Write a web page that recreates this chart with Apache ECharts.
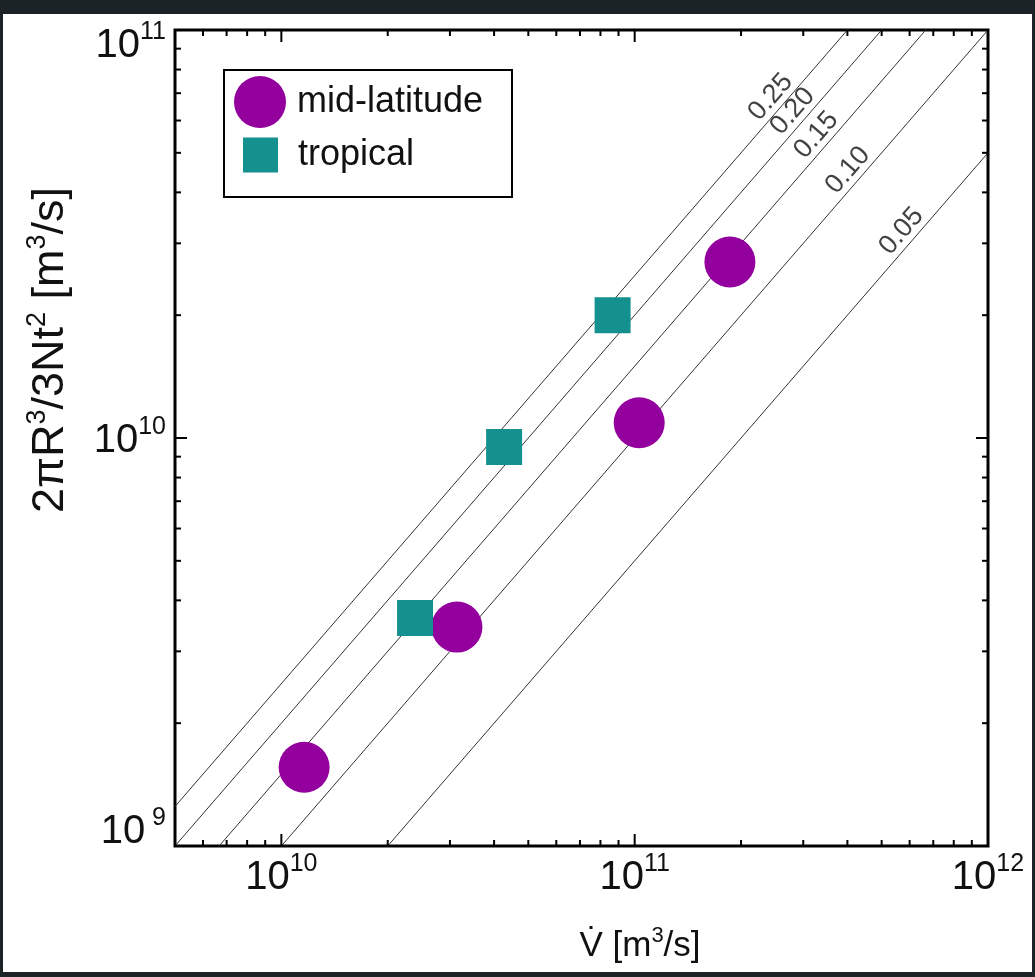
<!DOCTYPE html>
<html>
<head>
<meta charset="utf-8">
<script src="https://cdn.jsdelivr.net/npm/echarts@6/dist/echarts.min.js"></script>
<style>
  html, body { margin: 0; padding: 0; background: #fff; }
  #main { width: 1035px; height: 977px; }
</style>
</head>
<body>
<div id="main"></div>
<script>
// axis ranges
const xMin = 5e9, xMax = 1e12;
const yMin = 1e9, yMax = 1e11;

// data
const midLatV = [1.16e10, 3.14e10, 1.03e11, 1.86e11];
const midLatQ = [1.56e9, 3.44e9, 1.09e10, 2.70e10];
const tropV = [2.39e10, 4.27e10, 8.66e10];
const tropQ = [3.62e9, 9.5e9, 2.0e10];

// reference lines y = c * x and where their labels sit (x value)
const effCoef = [0.05, 0.10, 0.15, 0.20, 0.25];
const effLabels = ['0.05', '0.10', '0.15', '0.20', '0.25'];
const effLabelX = [6.1e11, 4.3e11, 3.5e11, 3.0e11, 2.6e11];

// tick marks
const xMajor = [1e10, 1e11, 1e12];
const xMinor = [5e9, 6e9, 7e9, 8e9, 9e9,
  2e10, 3e10, 4e10, 5e10, 6e10, 7e10, 8e10, 9e10,
  2e11, 3e11, 4e11, 5e11, 6e11, 7e11, 8e11, 9e11];
const yMajor = [1e9, 1e10, 1e11];
const yMinor = [2e9, 3e9, 4e9, 5e9, 6e9, 7e9, 8e9, 9e9,
  2e10, 3e10, 4e10, 5e10, 6e10, 7e10, 8e10, 9e10];

const font = 'Liberation Sans, Arial, sans-serif';
const purple = '#93009d';
const teal = '#14908f';
const labelAngle = 49;

// "10" + superscript; pt/pb shift the edge labels inwards like the original
function supStyles(pt, pb) {
  return {
    b: { fontSize: 40, fontFamily: font, color: '#111', padding: [pt + 6, 0, pb, 0] },
    s: { fontSize: 25, fontFamily: font, color: '#111', verticalAlign: 'top', padding: [pt, 0, 0, 0] }
  };
}
const midSup = supStyles(0, 0);
const topSup = supStyles(26, 0);
const botSup = supStyles(0, 34);
const labelRich = {
  b: midSup.b, s: midSup.s,
  bt: topSup.b, st: topSup.s,
  bb: botSup.b, sb: botSup.s
};

function powLabel(v, isY) {
  const lg = Math.log10(v);
  const e = Math.round(lg);
  if (Math.abs(lg - e) > 1e-6) return '';
  if (isY && e === 11) return '{bt|10}{st|11}';
  if (isY && e === 9) return '{bb|10}{sb| 9}';
  return '{b|10}{s|' + e + '}';
}

function tickLine(x1, y1, x2, y2) {
  return { type: 'line', shape: { x1: x1, y1: y1, x2: x2, y2: y2 }, style: { stroke: '#000', lineWidth: 2 } };
}

const xTickData = xMajor.map(v => [v, yMin, 1]).concat(xMinor.map(v => [v, yMin, 0]));
const yTickData = yMajor.map(v => [xMin, v, 1]).concat(yMinor.map(v => [xMin, v, 0]));

const lineSeries = effCoef.map(c => ({
  type: 'line',
  data: [[xMin, c * xMin], [xMax, c * xMax]],
  symbol: 'none',
  clip: true,
  silent: true,
  lineStyle: { color: '#333', width: 1 },
  z: 1
}));

const titleSup = { fontSize: 27, fontFamily: font, fill: '#111', verticalAlign: 'bottom', padding: [0, 0, 26, 0] };

const option = {
  backgroundColor: '#fff',
  animation: false,
  grid: {
    left: 175, top: 30, width: 813, height: 816,
    show: true, borderColor: '#000', borderWidth: 3, backgroundColor: '#fff'
  },
  xAxis: {
    type: 'log', logBase: 10, min: xMin, max: xMax,
    axisLine: { show: false },
    axisTick: { show: false },
    splitLine: { show: false },
    axisLabel: { formatter: v => powLabel(v, false), rich: labelRich, margin: 6 }
  },
  yAxis: {
    type: 'log', logBase: 10, min: yMin, max: yMax,
    axisLine: { show: false },
    axisTick: { show: false },
    splitLine: { show: false },
    axisLabel: { formatter: v => powLabel(v, true), rich: labelRich, margin: 9 }
  },
  legend: [
    {
      data: ['mid-latitude'], left: 229, top: 71, itemWidth: 52, itemHeight: 52, z: 10,
      textStyle: { fontSize: 36, fontFamily: font, color: '#111', padding: [12, 0, 0, 6] }
    },
    {
      data: ['tropical'], left: 238, top: 132, itemWidth: 35, itemHeight: 35, z: 10,
      textStyle: { fontSize: 36, fontFamily: font, color: '#111', padding: [8, 0, 0, 15] }
    }
  ],
  graphic: [
    { type: 'rect', shape: { x: 0, y: 0, width: 1035, height: 14 }, style: { fill: '#1b2326' } },
    { type: 'rect', shape: { x: 0, y: 0, width: 3, height: 977 }, style: { fill: '#1b2326' } },
    { type: 'rect', shape: { x: 1032, y: 0, width: 3, height: 977 }, style: { fill: '#1b2326' } },
    { type: 'rect', shape: { x: 0, y: 972, width: 1035, height: 5 }, style: { fill: '#1b2326' } },
    { type: 'rect', z: 3, shape: { x: 224, y: 70, width: 288, height: 127 }, style: { fill: '#fff', stroke: '#000', lineWidth: 2 } },
    {
      type: 'text', x: 51, y: 350, rotation: Math.PI / 2,
      style: {
        text: '2πR{s|3}/3Nt{s|2} [m{s|3}/s]',
        fontSize: 45, fontFamily: font, fill: '#111',
        align: 'center', verticalAlign: 'middle', textAlign: 'center', textVerticalAlign: 'middle',
        rich: { s: titleSup }
      }
    },
    {
      type: 'text', x: 640, y: 946,
      style: {
        text: 'V̇ [m{s|3}/s]',
        fontSize: 35, fontFamily: font, fill: '#111',
        align: 'center', verticalAlign: 'middle', textAlign: 'center', textVerticalAlign: 'middle',
        rich: { s: { fontSize: 22, fontFamily: font, fill: '#111', verticalAlign: 'bottom', padding: [0, 0, 20, 0] } }
      }
    }
  ],
  series: lineSeries.concat([
    {
      name: 'line labels',
      type: 'scatter',
      data: effCoef.map((c, i) => ({ value: [effLabelX[i], c * effLabelX[i]], name: effLabels[i] })),
      symbolSize: 1,
      itemStyle: { color: 'rgba(0,0,0,0)' },
      silent: true,
      label: {
        show: true, position: 'inside', formatter: '{b}',
        rotate: labelAngle, offset: [0, -14],
        fontSize: 27, fontFamily: font, color: '#111'
      },
      z: 3
    },
    {
      name: 'mid-latitude',
      type: 'scatter',
      symbol: 'circle',
      symbolSize: 51,
      data: midLatV.map((v, i) => [v, midLatQ[i]]),
      itemStyle: { color: purple, opacity: 1 },
      z: 4
    },
    {
      name: 'tropical',
      type: 'scatter',
      symbol: 'rect',
      symbolSize: 36,
      data: tropV.map((v, i) => [v, tropQ[i]]),
      itemStyle: { color: teal, opacity: 1 },
      z: 4
    },
    {
      type: 'custom',
      silent: true,
      data: xTickData,
      encode: { x: 0, y: 1 },
      renderItem: (params, api) => {
        const v = api.value(0);
        const len = api.value(2) ? 12 : 6;
        const b = api.coord([v, yMin]);
        const t = api.coord([v, yMax]);
        return { type: 'group', children: [tickLine(b[0], b[1], b[0], b[1] - len), tickLine(t[0], t[1], t[0], t[1] + len)] };
      },
      z: 6
    },
    {
      type: 'custom',
      silent: true,
      data: yTickData,
      encode: { x: 0, y: 1 },
      renderItem: (params, api) => {
        const v = api.value(1);
        const len = api.value(2) ? 12 : 6;
        const l = api.coord([xMin, v]);
        const r = api.coord([xMax, v]);
        return { type: 'group', children: [tickLine(l[0], l[1], l[0] + len, l[1]), tickLine(r[0], r[1], r[0] - len, r[1])] };
      },
      z: 6
    }
  ])
};

const plot = echarts.init(document.querySelector('#main'));
plot.setOption(option);
</script>
</body>
</html>
